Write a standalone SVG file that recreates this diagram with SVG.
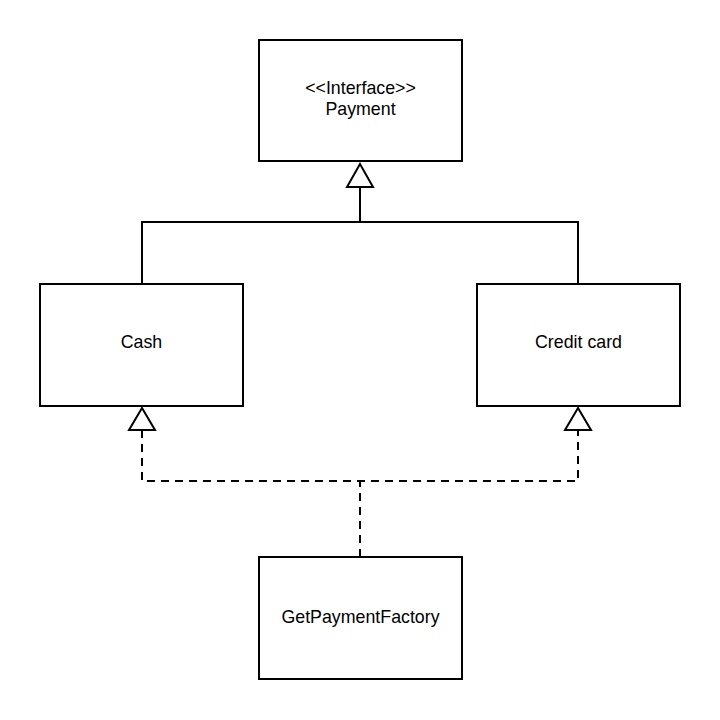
<svg xmlns="http://www.w3.org/2000/svg" width="720" height="720" viewBox="0 0 720 720">
<style>
.box{fill:#fff;stroke:#000;stroke-width:2}
.lbl{font-family:"Liberation Sans",Arial,sans-serif;font-size:17.8px;fill:#000;text-anchor:middle}
.ln{fill:none;stroke:#000;stroke-width:2}
.dash{stroke-dasharray:8 6}
.tri{fill:#fff;stroke:#000;stroke-width:2}
</style>
<rect width="720" height="720" fill="#fff"/>
<g id="connectors">
<polyline class="ln" points="142,284 142,222 578,222 578,284"/>
<line class="ln" x1="360" y1="222" x2="360" y2="187"/>
<polygon class="tri" points="360,164 347,187 373,187"/>
<polyline class="ln dash" points="360,557 360,481"/>
<polyline class="ln dash" points="142,430 142,481 578,481 578,430"/>
<polygon class="tri" points="142,408 129,430 155,430"/>
<polygon class="tri" points="578,408 565,430 591,430"/>
</g>
<g id="payment">
<rect class="box" x="259" y="40" width="203" height="121"/>
<text class="lbl" x="360.5" y="94">&lt;&lt;Interface&gt;&gt;</text>
<text class="lbl" x="360.5" y="115">Payment</text>
</g>
<g id="cash">
<rect class="box" x="40" y="284" width="203" height="122"/>
<text class="lbl" x="141.5" y="348">Cash</text>
</g>
<g id="creditcard">
<rect class="box" x="477" y="284" width="203" height="122"/>
<text class="lbl" x="578.5" y="348">Credit card</text>
</g>
<g id="factory">
<rect class="box" x="259" y="557" width="203" height="122"/>
<text class="lbl" x="360.5" y="623">GetPaymentFactory</text>
</g>
</svg>
